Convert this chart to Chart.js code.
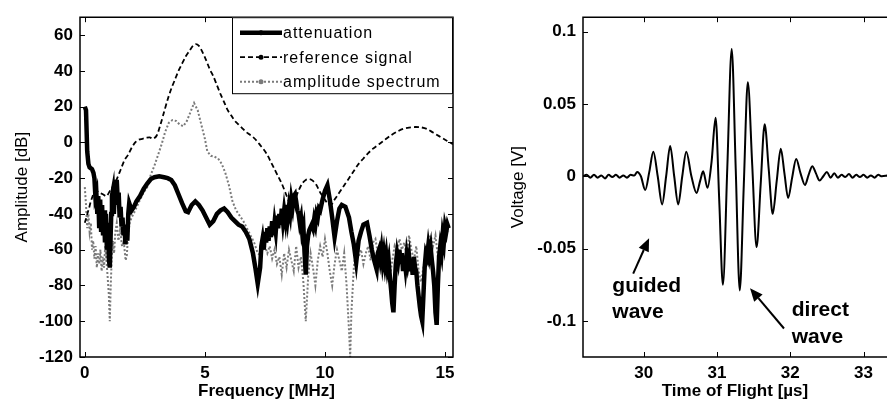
<!DOCTYPE html>
<html>
<head>
<meta charset="utf-8">
<script src="https://cdn.jsdelivr.net/npm/chart.js@4.4.1/dist/chart.umd.min.js"></script>
<style>
  body { margin: 0; background: #fff; }
  #wrap { position: relative; width: 887px; height: 405px; overflow: hidden; }
  canvas { position: absolute; top: 0; }
  #spec { left: 0; }
  #wave { left: 490px; }
</style>
</head>
<body>
<div id="wrap">
  <canvas id="spec" width="465" height="405"></canvas>
  <canvas id="wave" width="397" height="405"></canvas>
</div>
<script>
// ---- left panel: spectra, frequency [MHz] vs amplitude [dB]
const attFreq = [0.00, 0.05, 0.10, 0.15, 0.20, 0.30, 0.36,
  0.40, 0.44, 0.48, 0.52, 0.56, 0.60, 0.64, 0.68, 0.72, 0.76, 0.80, 0.84, 0.88, 0.92, 0.96, 1.00, 1.04,
  1.07, 1.10, 1.13,
  1.17, 1.21, 1.25, 1.29, 1.33, 1.37, 1.41, 1.45, 1.49, 1.53, 1.57, 1.61, 1.65, 1.69, 1.73, 1.77, 1.81, 1.85,
  1.90, 1.95, 2.05, 2.15, 2.30, 2.45, 2.60, 2.75, 2.90, 3.10, 3.30, 3.45, 3.60, 3.75, 3.90, 4.05, 4.20, 4.30, 4.45,
  4.60, 4.75, 4.90, 5.05, 5.20, 5.35, 5.50, 5.65, 5.80, 5.95, 6.10, 6.25, 6.40, 6.55, 6.70, 6.85, 7.00, 7.10, 7.20,
  7.30, 7.35, 7.40, 7.45, 7.50, 7.55, 7.60, 7.65, 7.70, 7.75, 7.80, 7.85, 7.90, 7.95, 8.00, 8.05, 8.10, 8.15, 8.20, 8.25,
  8.30, 8.35, 8.40, 8.45, 8.50, 8.55, 8.60, 8.65, 8.70, 8.75, 8.80, 8.85, 8.90, 8.95, 9.00, 9.05, 9.10, 9.15, 9.20, 9.25,
  9.30, 9.35,
  9.45, 9.50, 9.55, 9.60, 9.65, 9.70, 9.75, 9.80, 9.90, 10.00, 10.10, 10.20, 10.30, 10.40, 10.50, 10.60, 10.70, 10.85,
  11.00, 11.10, 11.20, 11.30, 11.40, 11.50, 11.60, 11.75, 11.85, 11.95, 12.05, 12.15, 12.20,
  12.25, 12.30, 12.35, 12.40, 12.45, 12.50, 12.55, 12.60, 12.65, 12.70, 12.75, 12.80, 12.85, 12.90, 12.95, 13.00, 13.05, 13.10, 13.15, 13.20,
  13.25, 13.30, 13.35, 13.40, 13.45, 13.50, 13.55, 13.60, 13.65, 13.70, 13.75, 13.80, 13.85, 13.90, 13.95, 14.00, 14.05, 14.10, 14.15, 14.20,
  14.25, 14.30, 14.35, 14.40, 14.45, 14.50, 14.55, 14.60, 14.65, 14.70, 14.75, 14.80, 14.85, 14.90, 14.95, 15.00, 15.05, 15.10, 15.15]
const attDb = [20, 18, -5, -12, -14, -15, -17,
  -20, -30, -28, -40, -30, -48, -32, -50, -35, -52, -38, -56, -40, -60, -45, -65, -70,
  -55, -40, -30,
  -27, -40, -26, -35, -21, -32, -28, -42, -36, -47, -42, -52, -46, -57, -50, -55, -40, -34,
  -36, -38, -36, -33, -30, -26, -23, -20.5, -19.5, -19, -19.5, -20, -21, -24, -29, -34, -38.5, -39, -35,
  -33, -35, -38, -42, -46, -44, -40, -38, -37, -39, -42, -44, -46, -47, -50, -54, -62, -70, -79,
  -70, -58, -54, -60, -50, -56, -48, -55, -47, -53, -44, -52, -45, -50, -41, -48, -40, -46, -37, -44,
  -38, -43, -35, -42, -36, -40, -32, -36, -30, -29, -33, -38, -40, -45, -42, -50, -47, -62, -74, -58,
  -52, -49,
  -46, -48, -43, -46, -40, -42, -37, -38, -32, -27, -24, -32, -42, -53, -44, -37, -35, -36,
  -42, -50, -57, -67, -55, -50, -46, -45, -52, -60, -66, -71, -62,
  -60, -65, -60, -67, -62, -68, -63, -70, -66, -75, -82, -90, -95, -80, -68, -62, -66, -60, -68, -62,
  -72, -64, -70, -63, -68, -64, -72, -66, -74, -64, -70, -72, -80, -86, -92, -97, -100, -85, -70, -62,
  -64, -58, -63, -59, -66, -72, -80, -95, -102, -80, -64, -58, -62, -52, -56, -47, -50, -46, -48]

const refFreq = [0.00, 0.15, 0.30, 0.45, 0.60, 0.75, 0.90, 1.05, 1.20, 1.35, 1.50, 1.65, 1.80, 1.95, 2.10, 2.25, 2.40, 2.55, 2.70, 2.85,
  3.00, 3.15, 3.30, 3.45, 3.60, 3.75, 3.90, 4.05, 4.20, 4.35, 4.50, 4.62, 4.75, 4.90, 5.05, 5.20, 5.35, 5.50, 5.65, 5.80,
  5.95, 6.10, 6.25, 6.40, 6.55, 6.70, 6.85, 7.00, 7.15, 7.30, 7.45, 7.60, 7.75, 7.90, 8.05, 8.20, 8.35, 8.50, 8.62, 8.75,
  8.90, 9.05, 9.20, 9.35, 9.50, 9.65, 9.80, 9.95, 10.10, 10.25, 10.40, 10.55, 10.70, 10.85, 11.00, 11.20, 11.40, 11.60, 11.80, 12.00,
  12.25, 12.50, 12.75, 13.00, 13.25, 13.50, 13.75, 14.00, 14.25, 14.50, 14.75, 15.00, 15.33]
const refDb = [-45, -38, -31, -27, -28, -29, -30, -27, -24, -20, -15, -10, -7, -3, 0, 1.5, 2, 2.5, 2.8, 2,
  4, 10, 17, 24, 30, 35, 40, 44, 48, 51, 54, 55, 54, 50.5, 46, 41, 37, 32, 27, 22.5,
  18, 15, 12, 10, 8, 6, 4.5, 3, 1, -1.5, -4, -7, -11, -15, -19, -23, -28, -33, -35, -32,
  -27, -23, -21, -20.5, -21.5, -24, -28, -31, -34, -35, -32, -29, -26, -23, -20, -16, -12, -9, -6, -3.5,
  -1, 1.5, 4, 6, 7.5, 8.3, 8.6, 8.4, 7.5, 5.5, 3.5, 1.5, -1]

const ampFreq = [0.00, 0.05, 0.10, 0.15, 0.20, 0.25, 0.30, 0.35, 0.40, 0.45, 0.50, 0.55, 0.60, 0.65, 0.70, 0.75, 0.80, 0.85, 0.90, 0.95,
  1.00, 1.04, 1.08, 1.12, 1.17, 1.22, 1.27, 1.33, 1.40, 1.47, 1.55, 1.62, 1.70, 1.75, 1.80, 1.87, 1.95, 2.10, 2.30, 2.45,
  2.60, 2.75, 2.90, 3.05, 3.20, 3.35, 3.50, 3.65, 3.80, 3.95, 4.10, 4.25, 4.40, 4.55, 4.70, 4.85, 5.00, 5.10, 5.25, 5.40,
  5.55, 5.70, 5.85, 6.00, 6.15, 6.30, 6.45, 6.60, 6.75, 6.90, 7.05, 7.20, 7.30, 7.40, 7.50, 7.60, 7.70, 7.80, 7.90, 8.00,
  8.10, 8.20, 8.30, 8.40, 8.50, 8.60, 8.70, 8.80, 8.90, 9.00, 9.10, 9.20, 9.30, 9.40, 9.50, 9.60, 9.70, 9.80, 9.90, 10.00,
  10.10, 10.20, 10.30, 10.40, 10.50, 10.60, 10.70, 10.80, 10.90, 11.00, 11.05, 11.10, 11.20, 11.30, 11.40, 11.50, 11.60, 11.70, 11.80, 11.90,
  12.00, 12.10, 12.20, 12.30, 12.40, 12.50, 12.60, 12.70, 12.80, 12.90, 13.00, 13.10, 13.20, 13.30, 13.40, 13.50, 13.60, 13.70, 13.80, 13.90,
  14.00, 14.10, 14.20, 14.30, 14.40, 14.50, 14.60, 14.70, 14.80, 14.90, 15.00, 15.15]
const ampDb = [-25, -35, -48, -40, -50, -45, -60, -55, -65, -58, -70, -62, -68, -60, -72, -64, -70, -58, -66, -75,
  -85, -100, -80, -65, -55, -62, -50, -45, -55, -49, -58, -55, -66, -63, -52, -45, -42, -38, -32, -28,
  -25, -18, -13, -7, -1, 6, 11, 12.5, 12, 10, 9, 12, 17, 22, 18, 10, 2, -5, -7.5, -8,
  -9, -12, -17, -24, -33, -38, -41, -44, -48, -52, -56, -62, -63, -60, -58, -62, -58, -65, -60, -68,
  -64, -74, -62, -70, -60, -66, -72, -58, -70, -64, -78, -100, -75, -62, -70, -80, -66, -58, -64, -54,
  -62, -72, -80, -68, -60, -66, -72, -62, -80, -105, -120, -95, -70, -58, -64, -60, -68, -62, -58, -66,
  -56, -54, -62, -58, -66, -70, -64, -76, -66, -58, -62, -54, -60, -56, -64, -52, -60, -66, -58, -72,
  -78, -70, -60, -56, -52, -58, -52, -64, -60, -55, -48, -50]

const specXTicks = [0, 5, 10, 15]
const specYTicks = [-120, -100, -80, -60, -40, -20, 0, 20, 40, 60]
const seriesNames = ['attenuation', 'reference signal', 'amplitude spectrum']

// ---- right panel: waveform, time of flight [µs] vs voltage [V]
const tof = [29.17, 29.22, 29.27, 29.32, 29.37, 29.42, 29.47, 29.52, 29.57, 29.62, 29.67, 29.72, 29.77, 29.82, 29.87, 29.91, 29.96,
  30.02, 30.075, 30.13, 30.19, 30.25, 30.305, 30.36, 30.415, 30.47, 30.525, 30.58, 30.65, 30.72, 30.77, 30.81, 30.87, 30.925,
  30.98, 31.03, 31.08, 31.14, 31.20, 31.255, 31.31, 31.365, 31.42, 31.48, 31.54, 31.595, 31.65, 31.705, 31.76, 31.815, 31.87,
  31.92, 31.97, 32.025, 32.08, 32.14, 32.20, 32.25, 32.30, 32.35, 32.40, 32.45, 32.50, 32.55, 32.60, 32.65, 32.70, 32.75,
  32.80, 32.85, 32.90, 32.95, 33.00, 33.05, 33.10, 33.15, 33.20, 33.25, 33.33]
const volt = [0.000, 0.001, -0.001, 0.001, -0.001, 0.0005, -0.0015, 0.001, -0.0005, 0.001, -0.001, 0.0005, -0.001, 0.001, 0.0005, 0.003, 0.000,
  -0.0095, 0.003, 0.017, 0.000, -0.0195, 0.000, 0.021, 0.000, -0.0195, 0.000, 0.017, 0.000, -0.0115, -0.003, 0.0034, -0.008, 0.010,
  0.0405, -0.017, -0.075, 0.006, 0.088, 0.005, -0.079, -0.006, 0.065, 0.008, -0.049, -0.006, 0.036, 0.005, -0.026, -0.003, 0.019,
  0.002, -0.015, -0.001, 0.012, 0.002, -0.006, 0.001, 0.007, 0.002, -0.003, 0.000, 0.003, -0.001, 0.002, -0.001, 0.001, -0.0005,
  0.0015, -0.001, 0.001, -0.0005, 0.001, -0.001, 0.0005, -0.001, 0.001, 0.000, 0.0005]

const waveXTicks = [30, 31, 32, 33]
const waveYTicks = [-0.1, -0.05, 0, 0.05, 0.1]

// labels on the waveform, in data units
const notes = [
  { lines: ['guided', 'wave'], x: 29.57, y: [-0.080, -0.0978] },
  { lines: ['direct', 'wave'], x: 32.02, y: [-0.0965, -0.1155] }
]
const arrows = [
  { from: [29.855, -0.0673], to: [30.072, -0.0428] },
  { from: [31.914, -0.1053], to: [31.45, -0.0774] }
]

Chart.defaults.font.family = '"Liberation Sans", Arial, sans-serif'
Chart.defaults.color = '#000'

const pts = (xs, ys) => xs.map((x, i) => ({ x: x, y: ys[i] }))

// box + inward ticks, matlab style
const frame = {
  id: 'frame',
  afterDatasetsDraw(chart, args, opts) {
    const { ctx, chartArea: a, scales: { x, y } } = chart
    const t = 5
    ctx.save()
    ctx.strokeStyle = '#000'
    ctx.lineWidth = 1
    ctx.beginPath()
    x.ticks.forEach(tk => {
      const px = Math.round(x.getPixelForValue(tk.value)) + 0.5
      ctx.moveTo(px, a.bottom); ctx.lineTo(px, a.bottom - t)
      ctx.moveTo(px, a.top); ctx.lineTo(px, a.top + t)
    })
    y.ticks.forEach(tk => {
      const py = Math.round(y.getPixelForValue(tk.value)) + 0.5
      ctx.moveTo(a.left, py); ctx.lineTo(a.left + t, py)
      if (opts.right) { ctx.moveTo(a.right, py); ctx.lineTo(a.right - t, py) }
    })
    ctx.stroke()
    ctx.lineWidth = 1.5
    ctx.beginPath()
    if (opts.right) {
      ctx.rect(a.left, a.top, a.right - a.left, a.bottom - a.top)
    } else {
      ctx.moveTo(a.right + 2, a.top); ctx.lineTo(a.left, a.top)
      ctx.lineTo(a.left, a.bottom); ctx.lineTo(a.right + 2, a.bottom)
    }
    ctx.stroke()
    ctx.restore()
  }
}

// legend box inside the top right corner
const keyBox = {
  id: 'keyBox',
  afterDatasetsDraw(chart) {
    const { ctx, chartArea: a } = chart
    const w = 221, h = 77
    const bx = a.right - w, by = a.top
    ctx.save()
    ctx.fillStyle = '#fff'
    ctx.fillRect(bx, by, w, h)
    ctx.strokeStyle = '#000'
    ctx.lineWidth = 1
    ctx.strokeRect(bx + 0.5, by + 0.5, w - 1, h - 1)
    chart.data.datasets.forEach((ds, i) => {
      const ly = by + 15.5 + i * 24.5
      ctx.strokeStyle = ds.borderColor
      ctx.lineWidth = ds.borderWidth
      ctx.setLineDash(ds.borderDash || [])
      ctx.beginPath(); ctx.moveTo(bx + 8, ly); ctx.lineTo(bx + 50, ly); ctx.stroke()
      ctx.setLineDash([])
      ctx.fillStyle = ds.borderColor
      ctx.beginPath(); ctx.arc(bx + 29, ly, 2.5, 0, Math.PI * 2); ctx.fill()
      ctx.fillStyle = '#000'
      ctx.font = '16px "Liberation Sans", Arial, sans-serif'
      ctx.letterSpacing = '1px'
      ctx.textBaseline = 'middle'
      ctx.fillText(ds.label, bx + 51, ly + 1)
    })
    ctx.restore()
  }
}

const notesPlugin = {
  id: 'notes',
  afterDatasetsDraw(chart) {
    const { ctx, scales: { x, y } } = chart
    ctx.save()
    ctx.fillStyle = '#000'
    ctx.strokeStyle = '#000'
    ctx.font = 'bold 21px "Liberation Sans", Arial, sans-serif'
    ctx.textBaseline = 'alphabetic'
    notes.forEach(n => n.lines.forEach((s, i) => {
      ctx.fillText(s, x.getPixelForValue(n.x), y.getPixelForValue(n.y[i]))
    }))
    arrows.forEach(ar => {
      const x0 = x.getPixelForValue(ar.from[0]), y0 = y.getPixelForValue(ar.from[1])
      const x1 = x.getPixelForValue(ar.to[0]), y1 = y.getPixelForValue(ar.to[1])
      const ang = Math.atan2(y1 - y0, x1 - x0)
      const hl = 13, hw = 5.5
      const bxp = x1 - hl * Math.cos(ang), byp = y1 - hl * Math.sin(ang)
      ctx.lineWidth = 2
      ctx.beginPath(); ctx.moveTo(x0, y0); ctx.lineTo(bxp, byp); ctx.stroke()
      ctx.beginPath()
      ctx.moveTo(x1, y1)
      ctx.lineTo(bxp + hw * Math.sin(ang), byp - hw * Math.cos(ang))
      ctx.lineTo(bxp - hw * Math.sin(ang), byp + hw * Math.cos(ang))
      ctx.closePath(); ctx.fill()
    })
    ctx.restore()
  }
}

const tickFont = { size: 17, weight: 'bold' }

function axes(xr, yr, xt, yt, xTitle, yTitle, yWidth, yTitlePad) {
  return {
    x: {
      type: 'linear', min: xr[0], max: xr[1],
      afterBuildTicks: s => { s.ticks = xt.map(v => ({ value: v })) },
      afterFit: s => { s.height = 48 },
      grid: { display: false, drawTicks: false },
      border: { display: false },
      ticks: { font: tickFont, padding: 6, maxRotation: 0, callback: v => String(v) },
      title: { display: true, text: xTitle, font: { size: 17, weight: 'bold' }, padding: { top: 0, bottom: 3 } }
    },
    y: {
      type: 'linear', min: yr[0], max: yr[1],
      afterBuildTicks: s => { s.ticks = yt.map(v => ({ value: v })) },
      afterFit: s => { s.width = yWidth },
      grid: { display: false, drawTicks: false },
      border: { display: false },
      ticks: { font: tickFont, padding: 7, callback: v => String(v) },
      title: { display: true, text: yTitle, font: { size: 17, weight: 'normal' }, padding: { top: yTitlePad, bottom: 0 } }
    }
  }
}

new Chart(document.getElementById('spec'), {
  type: 'line',
  data: {
    datasets: [
      { label: seriesNames[0], data: pts(attFreq, attDb), borderColor: '#000', borderWidth: 4.5, pointRadius: 0, tension: 0 },
      { label: seriesNames[1], data: pts(refFreq, refDb), borderColor: '#000', borderWidth: 1.8, borderDash: [5, 3], pointRadius: 0, tension: 0.3 },
      { label: seriesNames[2], data: pts(ampFreq, ampDb), borderColor: '#7a7a7a', borderWidth: 2, borderDash: [2, 2], pointRadius: 0, tension: 0 }
    ]
  },
  options: {
    responsive: false,
    animation: false,
    devicePixelRatio: 1,
    layout: { padding: { top: 11, right: 12, left: 0, bottom: 0 } },
    plugins: { legend: { display: false }, tooltip: { enabled: false }, frame: { right: true } },
    scales: axes([-0.2, 15.33], [-120, 70], specXTicks, specYTicks, 'Frequency [MHz]', 'Amplitude [dB]', 80, 12)
  },
  plugins: [frame, keyBox]
})

new Chart(document.getElementById('wave'), {
  type: 'line',
  data: {
    datasets: [
      { label: 'signal', data: pts(tof, volt), borderColor: '#000', borderWidth: 2, pointRadius: 0, cubicInterpolationMode: 'monotone' }
    ]
  },
  options: {
    responsive: false,
    animation: false,
    devicePixelRatio: 1,
    layout: { padding: { top: 11, right: 0, left: 0, bottom: 0 } },
    plugins: { legend: { display: false }, tooltip: { enabled: false }, frame: { right: false } },
    scales: axes([29.17, 33.32], [-0.125, 0.11], waveXTicks, waveYTicks, 'Time of Flight [µs]', 'Voltage [V]', 93, 18)
  },
  plugins: [frame, notesPlugin]
})
</script>
</body>
</html>
